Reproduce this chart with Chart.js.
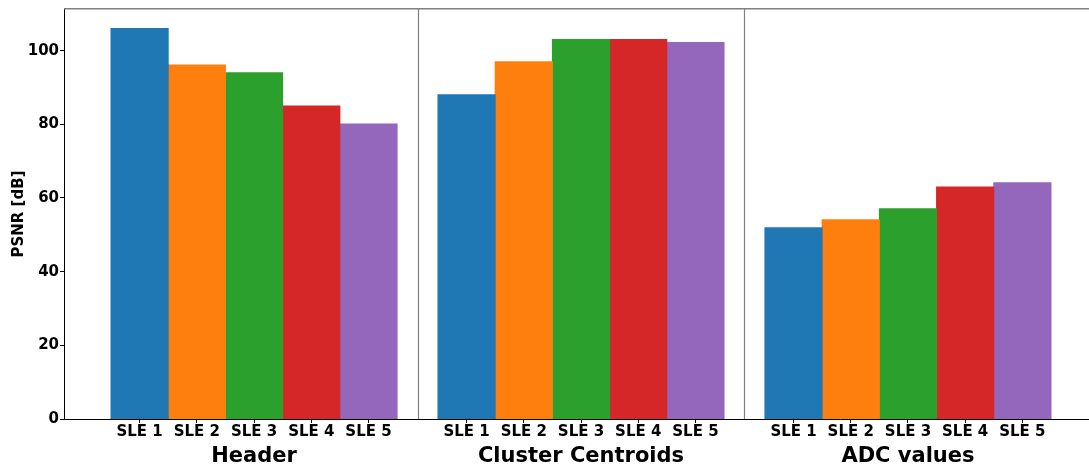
<!DOCTYPE html>
<html>
<head>
<meta charset="utf-8">
<script src="https://cdn.jsdelivr.net/npm/chart.js@4/dist/chart.umd.min.js"></script>
<style>
  html, body { margin: 0; padding: 0; background: #fff; overflow: hidden; }
  #wrap { width: 1100px; height: 469px; position: relative; }
</style>
</head>
<body>
<div id="wrap"><canvas id="psnr"></canvas></div>
<script>
// Data groups and per-level PSNR values [dB]
const groups = ['Header', 'Cluster Centroids', 'ADC values'];
const levels = ['SLE 1', 'SLE 2', 'SLE 3', 'SLE 4', 'SLE 5'];
const sle1 = [106, 88, 51.9];
const sle2 = [96.1, 97, 54.1];
const sle3 = [94, 103, 57.1];
const sle4 = [85, 103, 63];
const sle5 = [80.1, 102.2, 64.1];
const yTicks = [0, 20, 40, 60, 80, 100];

const palette = ['#1f77b4', '#ff7f0e', '#2ca02c', '#d62728', '#9467bd'];
const series = [sle1, sle2, sle3, sle4, sle5];

// Fraction of each group slot taken by its five bars
const groupFill = 0.875;
const barStep = groupFill / levels.length;

// Per-bar tick positions for the level labels
const levelTicks = [];
groups.forEach((_, g) => {
  levels.forEach((name, i) => {
    levelTicks.push({ value: g + (i - (levels.length - 1) / 2) * barStep, label: name });
  });
});

const xMin = -0.58125, xMax = 2.58125;

Chart.defaults.font.family = "'DejaVu Sans', sans-serif";
Chart.defaults.font.weight = 'bold';
Chart.defaults.color = '#000';

// Gray group separators and the top frame line
const frame = {
  id: 'frame',
  afterDatasetsDraw(chart) {
    const { ctx, chartArea: a, scales } = chart;
    ctx.save();
    ctx.strokeStyle = '#808080';
    ctx.lineWidth = 1.2;
    for (let g = 0; g < groups.length - 1; g++) {
      const px = Math.round(scales.x.getPixelForValue(g + 0.5)) + 0.5;
      ctx.beginPath();
      ctx.moveTo(px, a.top);
      ctx.lineTo(px, a.bottom);
      ctx.stroke();
    }
    ctx.lineWidth = 1.6;
    ctx.beginPath();
    ctx.moveTo(a.left, a.top - 0.3);
    ctx.lineTo(a.right, a.top - 0.3);
    ctx.stroke();
    ctx.restore();
  }
};

new Chart(document.getElementById('psnr'), {
  type: 'bar',
  data: {
    datasets: series.map((vals, i) => ({
      label: levels[i],
      data: vals.map((v, g) => ({ x: g, y: v })),
      backgroundColor: palette[i],
      borderWidth: 0,
      inflateAmount: 0.5,
      categoryPercentage: groupFill,
      barPercentage: 1
    }))
  },
  options: {
    responsive: true,
    maintainAspectRatio: false,
    animation: false,
    layout: { padding: { top: 9, right: 2, left: 0, bottom: 0 } },
    plugins: { legend: { display: false }, tooltip: { enabled: false } },
    scales: {
      x: {
        type: 'linear',
        position: 'bottom',
        weight: 1,
        offset: false,
        min: xMin,
        max: xMax,
        grid: { display: false, drawTicks: false, offset: false },
        border: { display: false },
        afterBuildTicks(scale) { scale.ticks = groups.map((_, g) => ({ value: g })); },
        afterFit(scale) { scale.height = 26; },
        ticks: {
          autoSkip: false,
          maxRotation: 0,
          minRotation: 0,
          padding: 0.5,
          font: { size: 21, weight: 'bold' },
          color: '#000',
          callback: (v, i) => groups[i]
        }
      },
      xs: {
        type: 'linear',
        position: 'bottom',
        weight: 0,
        offset: false,
        min: xMin,
        max: xMax,
        grid: { display: true, offset: false, drawOnChartArea: false, drawTicks: true, tickLength: 4, color: '#000' },
        border: { display: true, color: '#000', width: 1 },
        afterBuildTicks(scale) { scale.ticks = levelTicks.map(t => ({ value: t.value })); },
        afterFit(scale) { scale.height = 24; },
        ticks: {
          autoSkip: false,
          maxRotation: 0,
          minRotation: 0,
          padding: 0,
          font: { size: 15, weight: 'bold' },
          color: '#000',
          callback: (v, i) => levelTicks[i].label
        }
      },
      y: {
        min: 0,
        max: 111.3,
        grid: { display: true, drawOnChartArea: false, drawTicks: true, tickLength: 4, color: '#000' },
        border: { display: true, color: '#000', width: 1 },
        afterBuildTicks(scale) { scale.ticks = yTicks.map(v => ({ value: v })); },
        afterFit(scale) { scale.width = 64; scale.paddingTop = 0; scale.paddingBottom = 0; },
        ticks: {
          padding: 1,
          font: { size: 15, weight: 'bold' },
          color: '#000'
        },
        title: {
          display: true,
          text: 'PSNR [dB]',
          font: { size: 15, weight: 'bold' },
          color: '#000',
          padding: { top: 10, bottom: 0 }
        }
      }
    }
  },
  plugins: [frame]
});
</script>
</body>
</html>
